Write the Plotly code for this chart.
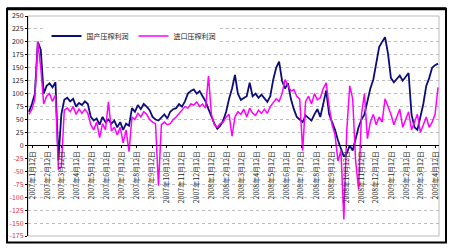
import pandas as pd
import plotly.graph_objects as go

# ---- data ----
start_date = "2007-01-04"
n_points = 140
dates = pd.date_range(start_date, periods=n_points, freq="6D")

series_a_name = "国产压榨利润"
series_b_name = "进口压榨利润"

series_a = [
    65, 80, 100, 200, 185, 100, 115, 120, 112, 122,
    -28, 60, 88, 92, 85, 90, 75, 82, 78, 85,
    80, 55, 48, 52, 40, 55, 45, 50, 42, 48,
    35, 45, 30, 42, 38, 72, 65, 78, 70, 80,
    75, 68, 55, 50, 48, 55, 60, 52, 65, 70,
    72, 80, 75, 85, 100, 105, 108, 100, 105, 95,
    85, 70, 55, 42, 32, 38, 48, 65, 90, 110,
    136, 100, 88, 92, 95, 121, 95, 100, 92, 98,
    90, 84, 95, 127, 150, 162, 125, 110, 120, 90,
    70, 55, 50, 45, 58, 52, 48, 60, 70, 55,
    80, 106, 60, 45, 30, 10, -5, -22, -15, 0,
    -10, 15, 35, 50, 60, 85, 110, 127, 160, 190,
    200, 209, 178, 130, 122, 128, 135, 125, 132, 140,
    60, 35, 30, 55, 80, 115, 130, 150, 155, 158,
]
series_b = [
    60, 70, 90, 200, 150, 80, 95, 100, 85, 98,
    -45, -42, 68, 72, 65, 75, 60, 70, 62, 70,
    62, 40, 30, 45, 15, 42, 30, 84, 28, 35,
    20, 35, 5, 30, -12, 55, 50, 62, 55, 65,
    60, 50, 45, 42, -78, 40, 45, 40, 42, 50,
    55, 62, 70, 75, 72, 80, 78, 84, 75, 80,
    72, 134, 60, 40, 35, 42, 45, 55, 60, 18,
    55, 65, 60, 70, 55, 72, 62, 58, 68, 62,
    70, 62, 75, 82, 90, 85, 100, 127, 115, 105,
    108, 95, 90, -10, 85, 95, 80, 100, 88, 92,
    110, 121, 75, 40, 20, -30, -10, -143, 30, 115,
    90, -30, -84, 60, 100, 13, 45, 60, 40, 55,
    45, 90, 75, 60, 40, 55, 70, 35, 50, 65,
    30, 45, 60, 25, 40, 55, 35, 45, 60, 112,
]

x_tick_dates = pd.date_range("2007-01-01", "2009-04-01", freq="MS") + pd.Timedelta(days=11)
x_tick_labels = [f"{d.year}年{d.month}月{d.day}日" for d in x_tick_dates]

y_tick_vals = [250, 225, 200, 175, 150, 125, 100, 75, 50, 25, 0,
               -25, -50, -75, -100, -125, -150, -175]
y_tick_text = [str(v) if v >= 0 else f"<span style='color:#e0303a'>{v}</span>"
               for v in y_tick_vals]

y_min, y_max = -175, 250
zero_pos = (0 - y_min) / (y_max - y_min)

fig = go.Figure()
fig.add_trace(go.Scatter(x=dates, y=series_a, name=series_a_name, mode="lines",
                         line=dict(color="#0c0c7a", width=1.8)))
fig.add_trace(go.Scatter(x=dates, y=series_b, name=series_b_name, mode="lines",
                         line=dict(color="#ff00ff", width=1.5)))

font_family = "Noto Sans CJK SC, DejaVu Sans, sans-serif"

fig.update_layout(
    width=450, height=250,
    margin=dict(l=24, r=10, t=10, b=10),
    paper_bgcolor="white", plot_bgcolor="white",
    font=dict(family=font_family, size=7, color="#222"),
    showlegend=True,
    legend=dict(orientation="h", x=0.045, y=0.975, xanchor="left", yanchor="top",
                bgcolor="white", font=dict(size=7), itemwidth=30,
                tracegroupgap=0),
    xaxis=dict(
        range=["2007-01-02", "2009-04-19"],
        anchor="free", position=zero_pos,
        tickmode="array", tickvals=x_tick_dates, ticktext=x_tick_labels,
        tickangle=-90, tickfont=dict(size=7, color="#222"),
        showline=True, linecolor="black", linewidth=1,
        ticks="outside", ticklen=2, tickcolor="black",
        showgrid=False, zeroline=False,
    ),
    yaxis=dict(
        range=[y_min, y_max],
        tickmode="array", tickvals=y_tick_vals, ticktext=y_tick_text,
        tickfont=dict(size=7, color="#222"),
        showline=True, linecolor="black", linewidth=1,
        ticks="outside", ticklen=2, tickcolor="black",
        showgrid=True, gridcolor="#bdbdbd", griddash="dot", gridwidth=1,
        zeroline=False,
    ),
    shapes=[
        dict(type="rect", xref="paper", yref="paper", x0=0, x1=1, y0=0, y1=1,
             line=dict(color="#bbbbbb", width=1), layer="below"),
        dict(type="rect", xref="paper", yref="paper",
             x0=-0.051, x1=1.017, y0=-0.030, y1=1.033,
             line=dict(color="black", width=2)),
        dict(type="line", xref="paper", yref="paper",
             x0=-0.051, x1=1.017, y0=1.033, y1=1.033,
             line=dict(color="black", width=3)),
    ],
)

fig.write_html("out.html")
